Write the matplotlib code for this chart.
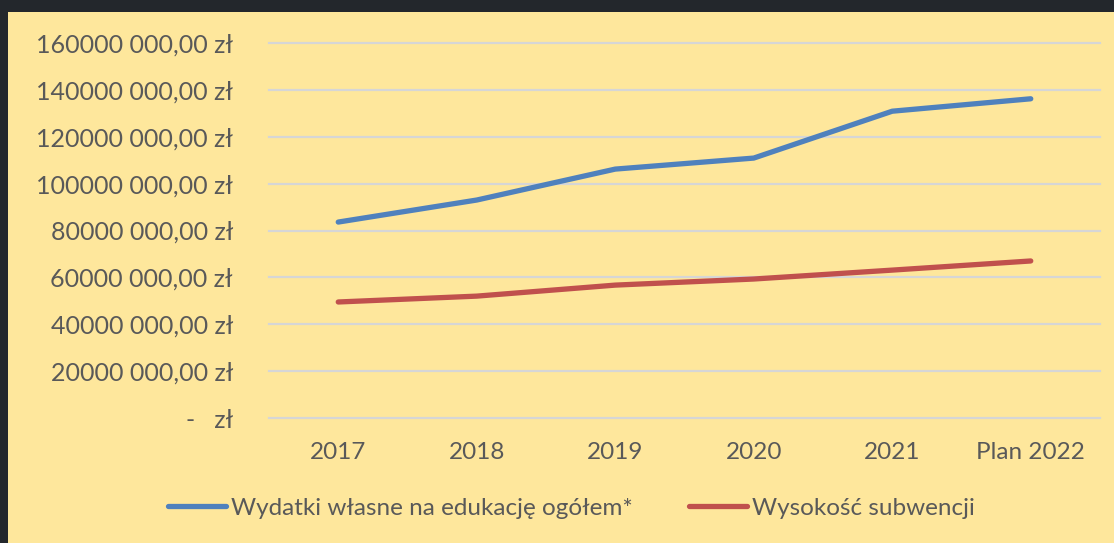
import matplotlib.pyplot as plt
import matplotlib.ticker as mticker
from matplotlib.patches import Rectangle

# dane z wykresu (zł)
categories = ["2017", "2018", "2019", "2020", "2021", "Plan 2022"]
wydatki_wlasne = [83.6e6, 93.0e6, 106.2e6, 110.9e6, 130.9e6, 136.2e6]
subwencja = [49.5e6, 52.0e6, 56.7e6, 59.3e6, 63.1e6, 67.0e6]
y_ticks = [0, 20e6, 40e6, 60e6, 80e6, 100e6, 120e6, 140e6, 160e6]

BG = "#FEE79C"
TXT = "#595959"
FS = 17.5

plt.rcParams["font.family"] = ["Lato", "DejaVu Sans"]


def formatZl(v, pos):
    # format ksiegowy jak w excelu
    if v == 0:
        return "-   zł"
    mln = int(v // 1_000_000)
    return f"{mln * 1000} 000,00 zł"


fig = plt.figure(figsize=(11.14, 5.43), dpi=100)
fig.patch.set_facecolor("#23272c")
fig.patches.append(Rectangle((8 / 1114, 0), 1 - 8 / 1114, 1 - 12 / 543,
                             transform=fig.transFigure, facecolor=BG,
                             edgecolor="none", zorder=-5))

ax = fig.add_axes([269 / 1114, 1 - 418 / 543, (1100 - 269) / 1114, (418 - 43) / 543])
ax.set_facecolor("none")

x = list(range(len(categories)))
ax.plot(x, wydatki_wlasne, color="#4F81BD", lw=3.8, solid_capstyle="round",
        label="Wydatki własne na edukację ogółem*", zorder=3)
ax.plot(x, subwencja, color="#C0504D", lw=3.8, solid_capstyle="round",
        label="Wysokość subwencji", zorder=3)

ax.set_xlim(-0.5, len(categories) - 0.5)
ax.set_ylim(0, 160e6)
ax.set_yticks(y_ticks)
ax.yaxis.set_major_formatter(mticker.FuncFormatter(formatZl))
ax.set_xticks(x)
ax.set_xticklabels(categories)

ax.grid(axis="y", color="#D6D6D6", lw=1.6, zorder=1)
ax.set_axisbelow(True)
for gl in ax.get_ygridlines():
    gl.set_clip_on(False)
for s in ax.spines.values():
    s.set_visible(False)
ax.tick_params(axis="y", length=0, pad=26, labelsize=18, labelcolor=TXT)
ax.tick_params(axis="x", length=0, pad=17, labelsize=FS, labelcolor=TXT)
for line in ax.lines:
    line.set_clip_on(False)

fig.legend(loc="center", bbox_to_anchor=(0.513, 0.064), ncol=2, frameon=False,
           fontsize=FS, labelcolor=TXT, handlelength=2.4, handletextpad=0.2,
           columnspacing=2.3)

fig.savefig("out.png", dpi=100, facecolor=fig.get_facecolor())
